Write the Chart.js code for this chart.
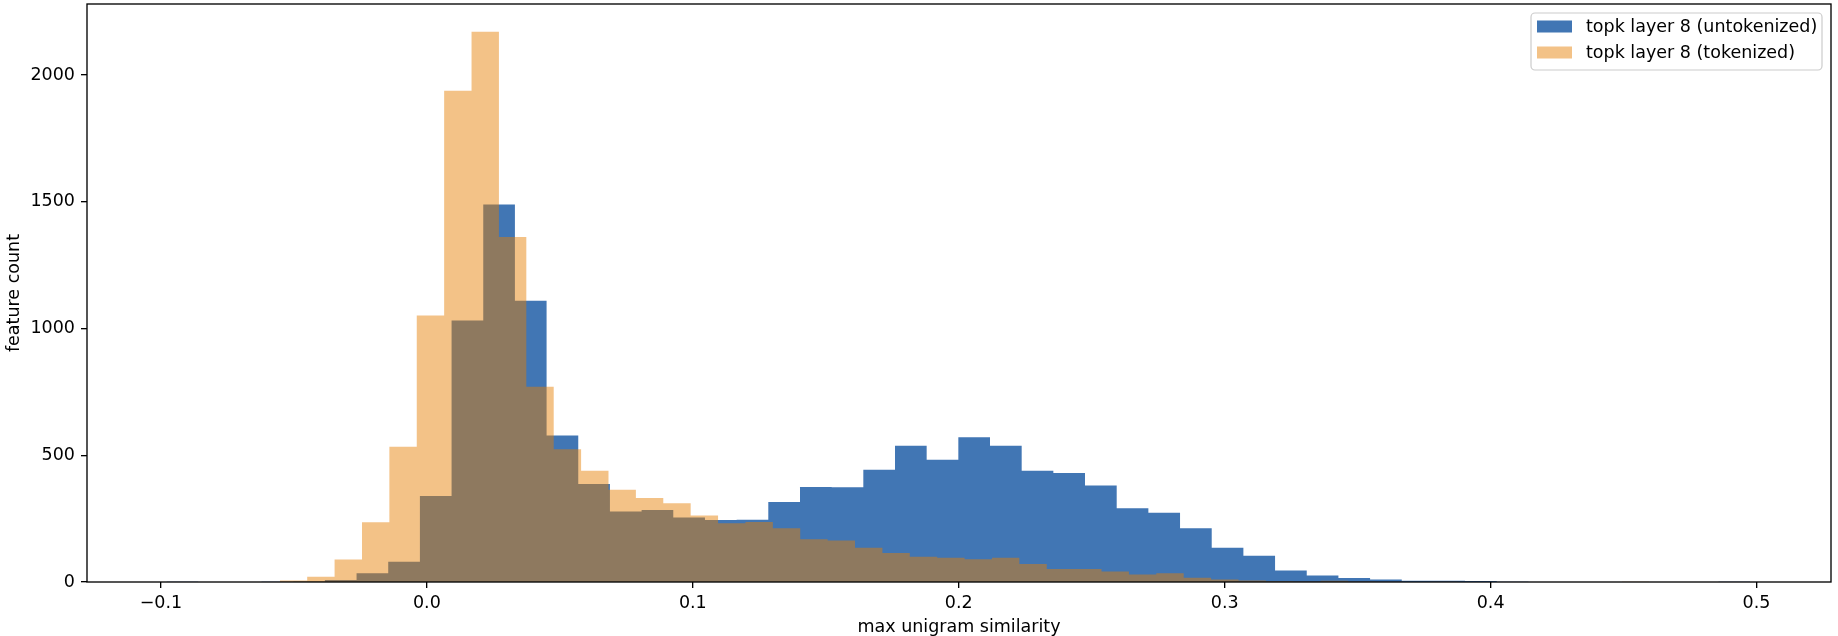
<!DOCTYPE html>
<html>
<head>
<meta charset="utf-8">
<script src="https://cdn.jsdelivr.net/npm/chart.js@4/dist/chart.umd.min.js"></script>
<style>
  html, body { margin: 0; padding: 0; background: #fff; }
  #wrap { width: 1838px; height: 636px; }
</style>
</head>
<body>
<div id="wrap"><canvas id="hist"></canvas></div>
<script>
// histogram bins: 50 bins each, start + width of a bin
const untokStart = -0.0979;
const untokWidth = 0.01191;
const tokStart = -0.0553;
const tokWidth = 0.0103;

// feature counts per bin
const untokCounts = [
  1, 0, 0, 1, 2, 8, 35, 80, 339, 1032,
  1489, 1109, 578, 387, 278, 284, 254, 245, 246, 316,
  375, 374, 443, 537, 482, 571, 537, 439, 430, 381,
  291, 273, 212, 135, 104, 45, 26, 16, 10, 5,
  5, 4, 1, 0, 0, 0, 0, 0, 0, 1
];
const tokCounts = [
  6, 21, 89, 236, 534, 1051, 1938, 2171, 1361, 770,
  524, 439, 364, 331, 311, 262, 232, 237, 212, 169,
  164, 135, 114, 100, 96, 90, 96, 71, 51, 51,
  41, 30, 35, 17, 10, 6, 3, 2, 5, 2,
  1, 0, 1, 0, 0, 0, 0, 0, 0, 1
];

const seriesNames = ['topk layer 8 (untokenized)', 'topk layer 8 (tokenized)'];
const xTicks = [-0.1, 0.0, 0.1, 0.2, 0.3, 0.4, 0.5];
const yTicks = [0, 500, 1000, 1500, 2000];

const blue = '#4176b4';
const orange = 'rgba(230,126,0,0.47)';
const fontSize = 17.5;

function histPoints(start, width, counts){
  const pts = counts.map((c, i) => ({x: start + i * width, y: c}));
  pts.push({x: start + counts.length * width, y: 0});
  return pts;
}

Chart.defaults.font.family = '"DejaVu Sans", sans-serif';
Chart.defaults.font.size = fontSize;
Chart.defaults.color = '#000';

const frameAndLegend = {
  id: 'frameAndLegend',
  afterDraw(chart){
    const {ctx, chartArea: a} = chart;
    ctx.save();
    ctx.strokeStyle = '#000';
    ctx.lineWidth = 1.33;
    ctx.strokeRect(a.left, a.top, a.right - a.left, a.bottom - a.top);

    // legend box, upper right
    const bx = a.right - 300, by = a.top + 9, bw = 291, bh = 57;
    ctx.beginPath();
    ctx.roundRect(bx, by, bw, bh, 4);
    ctx.fillStyle = 'rgba(255,255,255,0.8)';
    ctx.fill();
    ctx.strokeStyle = '#cccccc';
    ctx.lineWidth = 1.2;
    ctx.stroke();

    const colors = [blue, orange];
    ctx.font = fontSize + 'px "DejaVu Sans", sans-serif';
    ctx.textBaseline = 'middle';
    ctx.textAlign = 'left';
    seriesNames.forEach((name, i) => {
      const py = by + 7.5 + i * 26;
      ctx.fillStyle = colors[i];
      ctx.fillRect(bx + 6, py, 35, 12);
      ctx.fillStyle = '#000';
      ctx.fillText(name, bx + 55, py + 7);
    });
    ctx.restore();
  }
};

new Chart(document.getElementById('hist'), {
  type: 'line',
  data: {
    datasets: [
      {
        label: seriesNames[1],
        data: histPoints(tokStart, tokWidth, tokCounts),
        stepped: true,
        fill: 'origin',
        backgroundColor: orange,
        borderColor: 'rgba(0,0,0,0)',
        borderWidth: 0,
        pointRadius: 0
      },
      {
        label: seriesNames[0],
        data: histPoints(untokStart, untokWidth, untokCounts),
        stepped: true,
        fill: 'origin',
        backgroundColor: blue,
        borderColor: 'rgba(0,0,0,0)',
        borderWidth: 0,
        pointRadius: 0
      }
    ]
  },
  options: {
    responsive: true,
    maintainAspectRatio: false,
    animation: false,
    layout: { padding: { left: 0, top: 4, right: 7, bottom: 0 } },
    plugins: {
      legend: { display: false },
      tooltip: { enabled: false }
    },
    scales: {
      x: {
        type: 'linear',
        min: -0.1278,
        max: 0.528,
        afterFit(scale){
          scale.height = 54;
          scale.paddingLeft = 0;
          scale.paddingRight = 0;
        },
        afterBuildTicks(scale){ scale.ticks = xTicks.map(v => ({value: v})); },
        ticks: {
          padding: 4.5,
          maxRotation: 0,
          autoSkip: false,
          callback: v => v.toFixed(1).replace('-', '\u2212')
        },
        grid: {
          drawOnChartArea: false,
          drawTicks: true,
          tickLength: 6,
          color: '#000',
          lineWidth: 1.33
        },
        border: { display: false },
        title: {
          display: true,
          text: 'max unigram similarity',
          padding: { top: 0, bottom: -2 }
        }
      },
      y: {
        min: 0,
        max: 2280,
        afterFit(scale){
          scale.width = 87;
          scale.paddingTop = 0;
          scale.paddingBottom = 0;
        },
        afterBuildTicks(scale){ scale.ticks = yTicks.map(v => ({value: v})); },
        ticks: {
          padding: 6,
          autoSkip: false,
          callback: v => String(v)
        },
        grid: {
          drawOnChartArea: false,
          drawTicks: true,
          tickLength: 6,
          color: '#000',
          lineWidth: 1.33
        },
        border: { display: false },
        title: {
          display: true,
          text: 'feature count',
          padding: { top: 4, bottom: 0 }
        }
      }
    }
  },
  plugins: [frameAndLegend]
});
</script>
</body>
</html>
